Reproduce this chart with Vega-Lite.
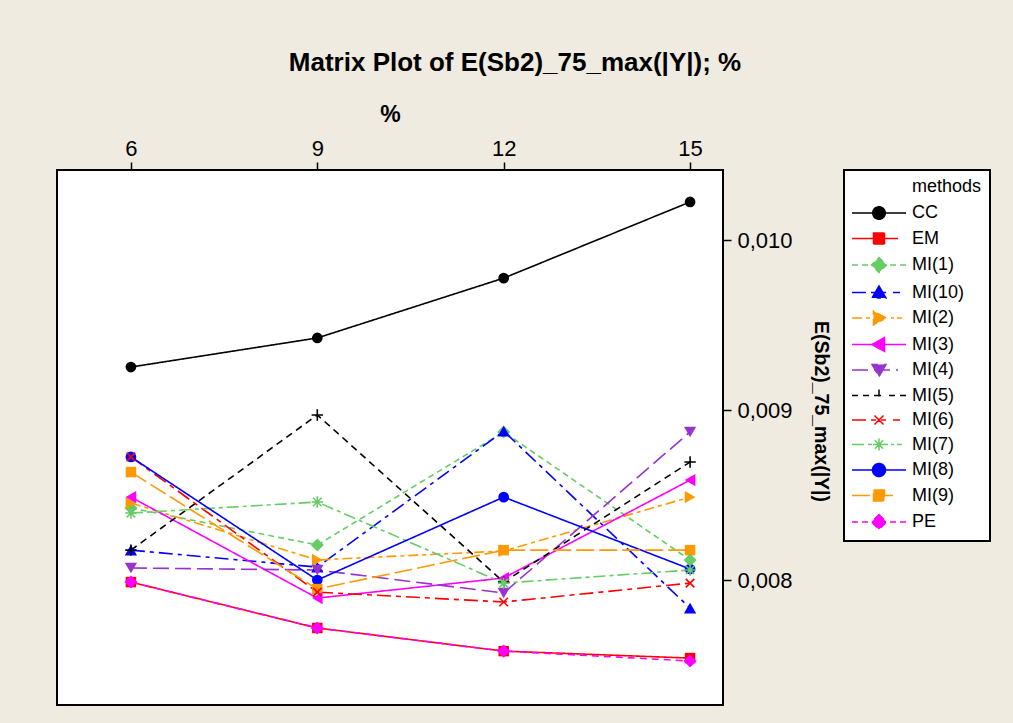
{
  "$schema": "https://vega.github.io/schema/vega-lite/v6.json",
  "width": 666,
  "height": 535,
  "autosize": {"type": "none"},
  "padding": {"left": 57, "top": 170, "right": 290, "bottom": 18},
  "background": "#EFEBE1",
  "title": {"text": "Matrix Plot of E(Sb2)_75_max(|Y|); %", "fontSize": 26, "fontWeight": "bold", "font": "Liberation Sans", "color": "black", "anchor": "middle", "dx": 125, "offset": 27},
  "data": {"values": [
    {"method": "CC", "pct": 6, "value": 0.009253}, {"method": "CC", "pct": 9, "value": 0.009424}, {"method": "CC", "pct": 12, "value": 0.009776}, {"method": "CC", "pct": 15, "value": 0.010224},
    {"method": "EM", "pct": 6, "value": 0.007988}, {"method": "EM", "pct": 9, "value": 0.007718}, {"method": "EM", "pct": 12, "value": 0.007582}, {"method": "EM", "pct": 15, "value": 0.007541},
    {"method": "MI(1)", "pct": 6, "value": 0.008424}, {"method": "MI(1)", "pct": 9, "value": 0.008206}, {"method": "MI(1)", "pct": 12, "value": 0.008871}, {"method": "MI(1)", "pct": 15, "value": 0.008118},
    {"method": "MI(10)", "pct": 6, "value": 0.008176}, {"method": "MI(10)", "pct": 9, "value": 0.008076}, {"method": "MI(10)", "pct": 12, "value": 0.008876}, {"method": "MI(10)", "pct": 15, "value": 0.007835},
    {"method": "MI(2)", "pct": 6, "value": 0.008453}, {"method": "MI(2)", "pct": 9, "value": 0.008118}, {"method": "MI(2)", "pct": 12, "value": 0.008171}, {"method": "MI(2)", "pct": 15, "value": 0.008488},
    {"method": "MI(3)", "pct": 6, "value": 0.008488}, {"method": "MI(3)", "pct": 9, "value": 0.007894}, {"method": "MI(3)", "pct": 12, "value": 0.008012}, {"method": "MI(3)", "pct": 15, "value": 0.008588},
    {"method": "MI(4)", "pct": 6, "value": 0.008071}, {"method": "MI(4)", "pct": 9, "value": 0.008059}, {"method": "MI(4)", "pct": 12, "value": 0.007924}, {"method": "MI(4)", "pct": 15, "value": 0.008871},
    {"method": "MI(5)", "pct": 6, "value": 0.008176}, {"method": "MI(5)", "pct": 9, "value": 0.008971}, {"method": "MI(5)", "pct": 12, "value": 0.007988}, {"method": "MI(5)", "pct": 15, "value": 0.008694},
    {"method": "MI(6)", "pct": 6, "value": 0.008724}, {"method": "MI(6)", "pct": 9, "value": 0.007929}, {"method": "MI(6)", "pct": 12, "value": 0.007871}, {"method": "MI(6)", "pct": 15, "value": 0.007982},
    {"method": "MI(7)", "pct": 6, "value": 0.008394}, {"method": "MI(7)", "pct": 9, "value": 0.008459}, {"method": "MI(7)", "pct": 12, "value": 0.007982}, {"method": "MI(7)", "pct": 15, "value": 0.008059},
    {"method": "MI(8)", "pct": 6, "value": 0.008724}, {"method": "MI(8)", "pct": 9, "value": 0.008000}, {"method": "MI(8)", "pct": 12, "value": 0.008488}, {"method": "MI(8)", "pct": 15, "value": 0.008065},
    {"method": "MI(9)", "pct": 6, "value": 0.008635}, {"method": "MI(9)", "pct": 9, "value": 0.007947}, {"method": "MI(9)", "pct": 12, "value": 0.008176}, {"method": "MI(9)", "pct": 15, "value": 0.008176},
    {"method": "PE", "pct": 6, "value": 0.007988}, {"method": "PE", "pct": 9, "value": 0.007718}, {"method": "PE", "pct": 12, "value": 0.007582}, {"method": "PE", "pct": 15, "value": 0.007524}
  ]},
  "encoding": {
    "x": {"field": "pct", "type": "quantitative", "title": "%",
      "scale": {"domain": [4.81, 15.53], "nice": false, "zero": false},
      "axis": {"orient": "top", "values": [6, 9, 12, 15], "grid": false, "domain": false, "tickSize": 8, "tickWidth": 1.5, "tickColor": "black", "labelFontSize": 22, "labelColor": "black", "labelPadding": 2, "titleFontSize": 23, "titleFontWeight": "bold", "titleColor": "black", "titlePadding": 11, "labelFont": "Liberation Sans", "titleFont": "Liberation Sans"}},
    "y": {"field": "value", "type": "quantitative", "title": "E(Sb2)_75_max(|Y|)",
      "scale": {"domain": [0.007265, 0.010412], "nice": false, "zero": false},
      "axis": {"orient": "right", "values": [0.008, 0.009, 0.010], "labelExpr": "replace(format(datum.value, '.3f'), '.', ',')", "grid": false, "domain": false, "tickSize": 8, "tickWidth": 1.5, "tickColor": "black", "labelFontSize": 22, "labelColor": "black", "labelPadding": 6, "titleFontSize": 19.5, "titleFontWeight": "bold", "titleColor": "black", "titlePadding": 18, "titleY": 241, "labelFont": "Liberation Sans", "titleFont": "Liberation Sans"}},
    "color": {"field": "method", "type": "nominal", "title": "methods",
      "scale": {"domain": ["CC", "EM", "MI(1)", "MI(10)", "MI(2)", "MI(3)", "MI(4)", "MI(5)", "MI(6)", "MI(7)", "MI(8)", "MI(9)", "PE"],
        "range": ["#000000", "#FF0000", "#66CC66", "#0000FF", "#FF9900", "#FF00FF", "#9933CC", "#000000", "#FF0000", "#66CC66", "#0000FF", "#FF9900", "#FF00FF"]},
      "legend": {
        "labelExpr": "datum.label + '\u00a0\u00a0\u00a0\u00a0'",
        "encode": {
          "legend": {"update": {"strokeWidth": {"value": 2}}},
          "title": {"update": {"dx": {"value": 60}}},
          "symbols": {"update": {
            "fill": {"signal": "scale('color', datum.value)"},
            "stroke": {"signal": "scale('color', datum.value)"},
            "strokeWidth": {"value": 1.5},
            "strokeDash": {"value": [1, 0]},
            "opacity": {"value": 1},
            "shape": {"signal": "datum.value === 'CC' ? 'M-5.4,0H5.4M1.25,0A1.25,1.25,0,1,1,-1.25,0A1.25,1.25,0,1,1,1.25,0Z' : datum.value === 'EM' ? 'M-5.4,0H3.8M-1.1,-1.1H1.1V1.1H-1.1Z' : datum.value === 'MI(1)' ? 'M-5.4,0H-4.2M-3.4,0H-2.2M-1.4,0H1.4M2.2,0H3.4M4.2,0H5.4M0,-1.5L1.5,0L0,1.5L-1.5,0Z' : datum.value === 'MI(10)' ? 'M-5.4,0H1.4M2.8,0H4.2M0,-1.3L1.4,1.1H-1.4Z' : datum.value === 'MI(2)' ? 'M-5.4,0H1.8M2.4,0H3M3.6,0H4.6M1.4,0L-1.1,-1.4V1.4Z' : datum.value === 'MI(3)' ? 'M-5.4,0H5.4M-1.4,0L1.1,-1.4V1.4Z' : datum.value === 'MI(4)' ? 'M-5.4,0H3.8M0,1.3L1.4,-1.1H-1.4Z' : datum.value === 'MI(5)' ? 'M-5.4,0H-4.2M-3.2,0H-2M-1,0H1M2,0H3.2M4.2,0H5.4M0,-1.2V1.2' : datum.value === 'MI(6)' ? 'M-5.4,0H1.4M2.8,0H4.2M-0.9,-0.9L0.9,0.9M-0.9,0.9L0.9,-0.9' : datum.value === 'MI(7)' ? 'M-5.4,0H1.8M2.4,0H3M3.6,0H4.6M-1.2,0H1.2M0,-1.2V1.2M-0.85,-0.85L0.85,0.85M-0.85,0.85L0.85,-0.85' : datum.value === 'MI(8)' ? 'M-5.4,0H5.4M1.3,0A1.3,1.3,0,1,1,-1.3,0A1.3,1.3,0,1,1,1.3,0Z' : datum.value === 'MI(9)' ? 'M-5.4,0H3.8M-1.1,-1.1H1.1V1.1H-1.1Z' : 'M-5.4,0H-4.2M-3.4,0H-2.2M-1.4,0H1.4M2.2,0H3.4M4.2,0H5.4M0,-1.5L1.5,0L0,1.5L-1.5,0Z'"}
          }}
        }
      }}
  },
  "layer": [
    {"mark": {"type": "line", "strokeWidth": 1.6},
     "encoding": {
       "strokeDash": {"field": "method", "type": "nominal", "legend": null,
         "scale": {"domain": ["CC", "EM", "MI(1)", "MI(10)", "MI(2)", "MI(3)", "MI(4)", "MI(5)", "MI(6)", "MI(7)", "MI(8)", "MI(9)", "PE"],
           "range": [[1, 0], [1, 0], [6, 4], [14, 5, 4, 5], [10, 4, 4, 4], [1, 0], [16, 6], [7, 5], [14, 5, 5, 5], [12, 4, 4, 4], [1, 0], [18, 5], [7, 5]]}}
     }},
    {"transform": [{"filter": {"field": "method", "oneOf": ["CC", "MI(8)"]}}],
     "mark": {"type": "point", "shape": "circle", "filled": true, "size": 115, "opacity": 1}},
    {"transform": [{"filter": {"field": "method", "oneOf": ["EM", "MI(9)"]}}],
     "mark": {"type": "point", "shape": "square", "filled": true, "size": 110, "opacity": 1}},
    {"transform": [{"filter": {"field": "method", "oneOf": ["MI(1)", "PE"]}}],
     "mark": {"type": "point", "shape": "diamond", "filled": true, "size": 170, "opacity": 1}},
    {"transform": [{"filter": {"field": "method", "equal": "MI(10)"}}],
     "mark": {"type": "point", "shape": "triangle-up", "filled": true, "size": 150, "opacity": 1}},
    {"transform": [{"filter": {"field": "method", "equal": "MI(2)"}}],
     "mark": {"type": "point", "shape": "triangle-right", "filled": true, "size": 150, "opacity": 1}},
    {"transform": [{"filter": {"field": "method", "equal": "MI(3)"}}],
     "mark": {"type": "point", "shape": "triangle-left", "filled": true, "size": 150, "opacity": 1}},
    {"transform": [{"filter": {"field": "method", "equal": "MI(4)"}}],
     "mark": {"type": "point", "shape": "triangle-down", "filled": true, "size": 150, "opacity": 1}},
    {"transform": [{"filter": {"field": "method", "equal": "MI(5)"}}],
     "mark": {"type": "point", "shape": "M-1,0H1M0,-1V1", "filled": false, "strokeWidth": 1.6, "size": 130, "opacity": 1}},
    {"transform": [{"filter": {"field": "method", "equal": "MI(6)"}}],
     "mark": {"type": "point", "shape": "M-0.75,-0.75L0.75,0.75M-0.75,0.75L0.75,-0.75", "filled": false, "strokeWidth": 1.6, "size": 130, "opacity": 1}},
    {"transform": [{"filter": {"field": "method", "equal": "MI(7)"}}],
     "mark": {"type": "point", "shape": "M-1,0H1M0,-1V1M-0.75,-0.75L0.75,0.75M-0.75,0.75L0.75,-0.75", "filled": false, "strokeWidth": 1.6, "size": 130, "opacity": 1}}
  ],
  "config": {
    "font": "Liberation Sans",
    "view": {"fill": "white", "stroke": "black", "strokeWidth": 2},
    "legend": {
      "orient": "right", "offset": 13, "padding": 8, "fillColor": "white", "strokeColor": "black",
      "titleFontSize": 18, "titleFontWeight": "normal", "titleColor": "black", "titleAnchor": "start", "titlePadding": 8, "titleFont": "Liberation Sans",
      "labelFontSize": 18, "labelColor": "black", "labelFont": "Liberation Sans",
      "symbolSize": 100, "symbolOffset": 18, "labelOffset": 24, "rowPadding": 6.5
    }
  }
}
